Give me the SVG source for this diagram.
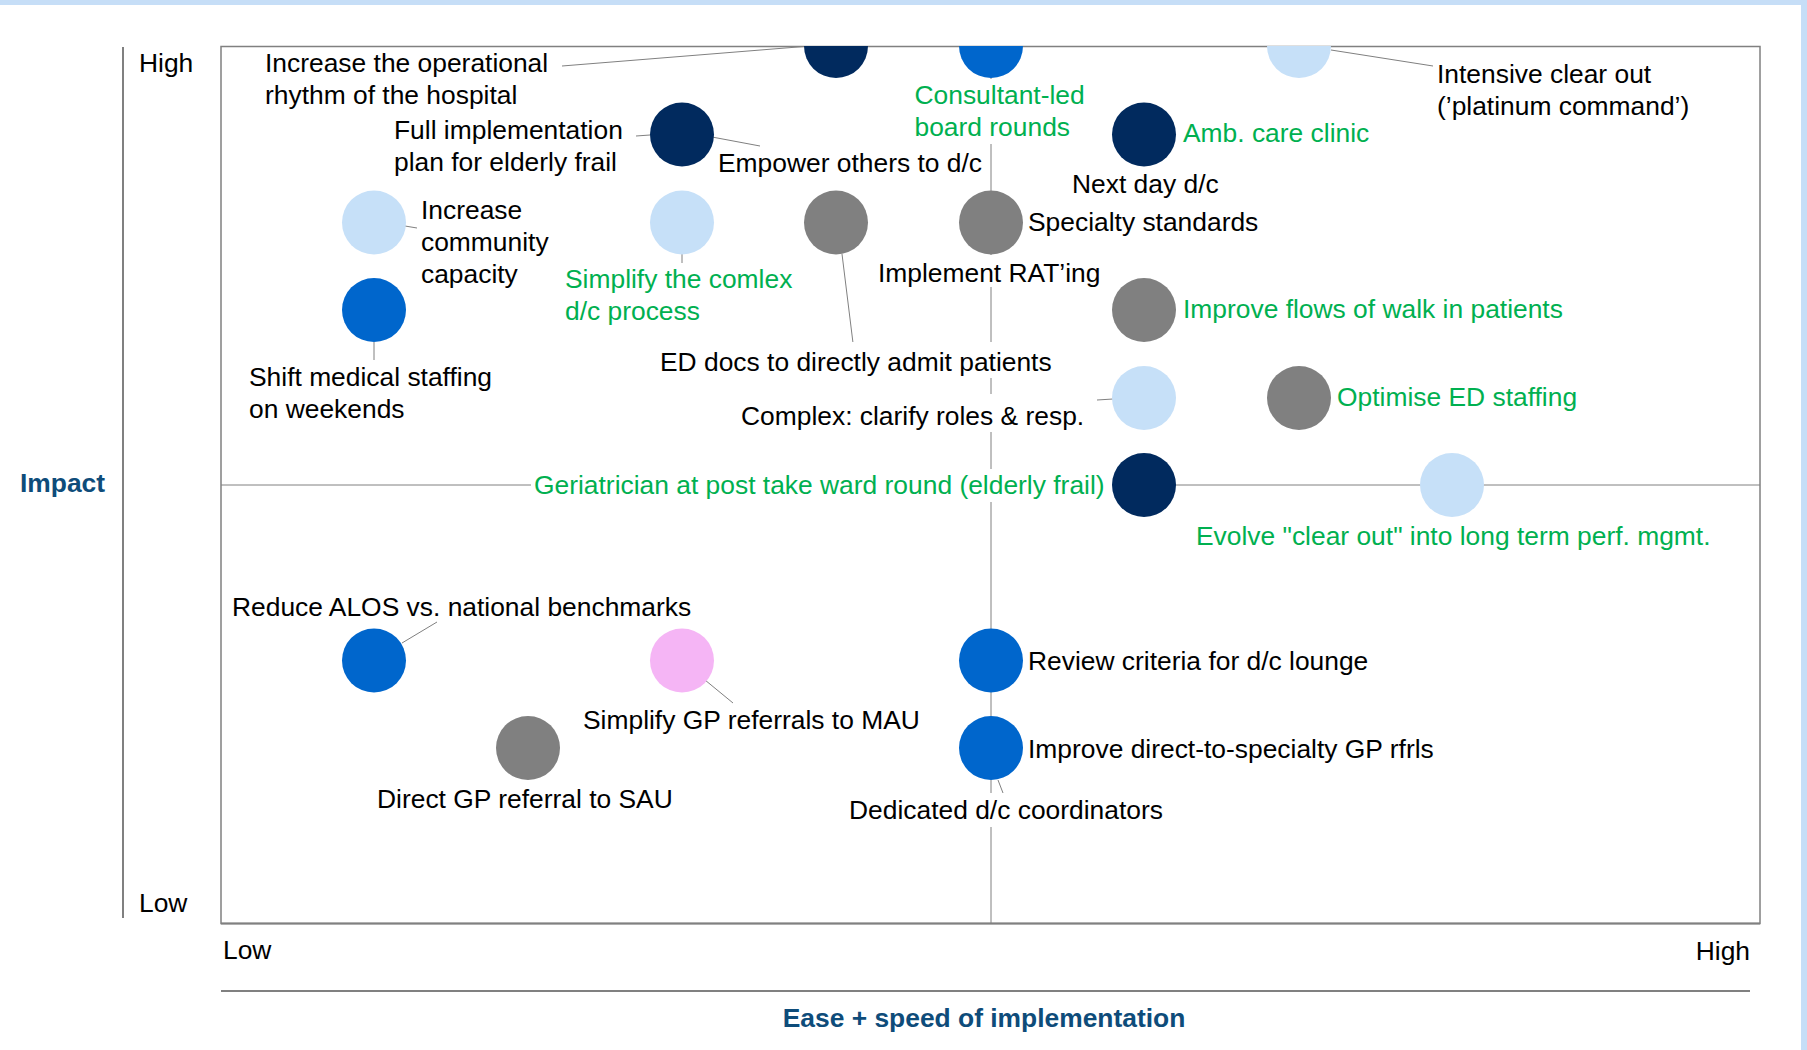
<svg xmlns="http://www.w3.org/2000/svg" width="1807" height="1050" viewBox="0 0 1807 1050">
<defs>
<style>
text{font-family:"Liberation Sans",Arial,Helvetica,sans-serif;font-size:26.4px;fill:#000}
.g{fill:#00B050}
.ax{fill:#0E4C7A;font-weight:bold}
.ln{stroke:#808080;stroke-width:1;fill:none}
.c1{fill:#012A5E}
.c2{fill:#0066CC}
.c3{fill:#C6E0F8}
.c4{fill:#808080}
.c5{fill:#F5B5F5}
.bg{fill:#fff}
</style>
<clipPath id="plot"><rect x="220" y="46" width="1541" height="878"/></clipPath>
</defs>
<rect x="0" y="0" width="1807" height="1050" fill="#fff"/>
<rect x="0" y="0" width="1807" height="5" fill="#C6DEF7"/>
<rect x="1801" y="0" width="6" height="1050" fill="#C6DEF7"/>

<g id="axes">
<line x1="123" y1="47" x2="123" y2="918" stroke="#808080" stroke-width="2"/>
<rect x="221" y="46.5" width="1539" height="877" fill="none" stroke="#808080" stroke-width="1.5"/>
<line x1="221" y1="923.5" x2="1760" y2="923.5" stroke="#808080" stroke-width="2"/>
<line class="ln" x1="221" y1="485" x2="1760" y2="485"/>
<line class="ln" x1="991" y1="46" x2="991" y2="923"/>
<line x1="221" y1="991" x2="1750" y2="991" stroke="#808080" stroke-width="2"/>
<text x="139" y="72">High</text>
<text x="139" y="912">Low</text>
<text x="223" y="959">Low</text>
<text x="1750" y="960" text-anchor="end">High</text>
<text class="ax" x="20" y="492">Impact</text>
<text class="ax" x="984" y="1027" text-anchor="middle">Ease + speed of implementation</text>
</g>

<g id="connectors">
<line class="ln" x1="562" y1="66" x2="804" y2="46.5"/>
<line class="ln" x1="636" y1="136" x2="650" y2="135"/>
<line class="ln" x1="712" y1="137" x2="760" y2="146"/>
<line class="ln" x1="405" y1="226" x2="417" y2="228"/>
<line class="ln" x1="682" y1="254" x2="682" y2="263"/>
<line class="ln" x1="842" y1="254" x2="853" y2="343"/>
<line class="ln" x1="1097" y1="400" x2="1113" y2="399"/>
<line class="ln" x1="1331" y1="50" x2="1433" y2="66"/>
<line class="ln" x1="374" y1="342" x2="374" y2="360"/>
<line class="ln" x1="402" y1="643" x2="437" y2="622"/>
<line class="ln" x1="705" y1="680" x2="733" y2="703"/>
<line class="ln" x1="998" y1="780" x2="1003" y2="793"/>
</g>

<g id="n1">
<circle class="c1" cx="836" cy="46" r="32" clip-path="url(#plot)"/>
<text x="265" y="72">Increase the operational</text>
<text x="265" y="104">rhythm of the hospital</text>
</g>
<g id="n2">
<rect class="bg" x="912" y="79" width="176" height="65"/>
<circle class="c2" cx="991" cy="46" r="32" clip-path="url(#plot)"/>
<text class="g" x="914.5" y="104">Consultant-led</text>
<text class="g" x="914.5" y="136">board rounds</text>
</g>
<g id="n3">
<circle class="c3" cx="1299" cy="46" r="32" clip-path="url(#plot)"/>
<text x="1437" y="83">Intensive clear out</text>
<text x="1437" y="115">(’platinum command’)</text>
</g>
<g id="n4">
<circle class="c1" cx="682" cy="134.5" r="32"/>
<text x="394" y="139">Full implementation</text>
<text x="394" y="171">plan for elderly frail</text>
<text x="718" y="172">Empower others to d/c</text>
</g>
<g id="n5">
<circle class="c1" cx="1144" cy="134.5" r="32"/>
<text class="g" x="1183" y="142">Amb. care clinic</text>
<text x="1072" y="193">Next day d/c</text>
</g>
<g id="n6">
<circle class="c3" cx="374" cy="222.5" r="32"/>
<text x="421" y="219">Increase</text>
<text x="421" y="251">community</text>
<text x="421" y="283">capacity</text>
</g>
<g id="n7">
<circle class="c3" cx="682" cy="222.5" r="32"/>
<text class="g" x="565" y="288">Simplify the comlex</text>
<text class="g" x="565" y="320">d/c process</text>
</g>
<g id="n8">
<circle class="c4" cx="836" cy="222.5" r="32"/>
<rect class="bg" x="655" y="342" width="400" height="36"/>
<text x="660" y="371">ED docs to directly admit patients</text>
</g>
<g id="n9">
<circle class="c4" cx="991" cy="222.5" r="32"/>
<text x="1028" y="231">Specialty standards</text>
<rect class="bg" x="874" y="255" width="232" height="32"/>
<text x="878" y="282">Implement RAT’ing</text>
</g>
<g id="n10">
<circle class="c2" cx="374" cy="310" r="32"/>
<text x="249" y="386">Shift medical staffing</text>
<text x="249" y="418">on weekends</text>
</g>
<g id="n11">
<circle class="c4" cx="1144" cy="310" r="32"/>
<text class="g" x="1183" y="318">Improve flows of walk in patients</text>
</g>
<g id="n12">
<rect class="bg" x="736" y="394" width="354" height="38"/>
<circle class="c3" cx="1144" cy="398" r="32"/>
<text x="741" y="425">Complex: clarify roles &amp; resp.</text>
</g>
<g id="n13">
<circle class="c4" cx="1299" cy="398" r="32"/>
<text class="g" x="1337" y="406">Optimise ED staffing</text>
</g>
<g id="n14">
<rect class="bg" x="531" y="469" width="582" height="33"/>
<circle class="c1" cx="1144" cy="485" r="32"/>
<text class="g" x="534" y="494">Geriatrician at post take ward round (elderly frail)</text>
</g>
<g id="n15">
<circle class="c3" cx="1452" cy="485" r="32"/>
<text class="g" x="1196" y="545">Evolve "clear out" into long term perf. mgmt.</text>
</g>
<g id="n16">
<circle class="c2" cx="374" cy="660.5" r="32"/>
<text x="232" y="616">Reduce ALOS vs. national benchmarks</text>
</g>
<g id="n17">
<circle class="c5" cx="682" cy="660.5" r="32"/>
<text x="583" y="729">Simplify GP referrals to MAU</text>
</g>
<g id="n18">
<circle class="c2" cx="991" cy="660.5" r="32"/>
<text x="1028" y="670">Review criteria for d/c lounge</text>
</g>
<g id="n19">
<circle class="c4" cx="528" cy="748" r="32"/>
<text x="377" y="808">Direct GP referral to SAU</text>
</g>
<g id="n20">
<circle class="c2" cx="991" cy="748" r="32"/>
<text x="1028" y="758">Improve direct-to-specialty GP rfrls</text>
<rect class="bg" x="845" y="793" width="322" height="34"/>
<text x="849" y="819">Dedicated d/c coordinators</text>
</g>
</svg>
